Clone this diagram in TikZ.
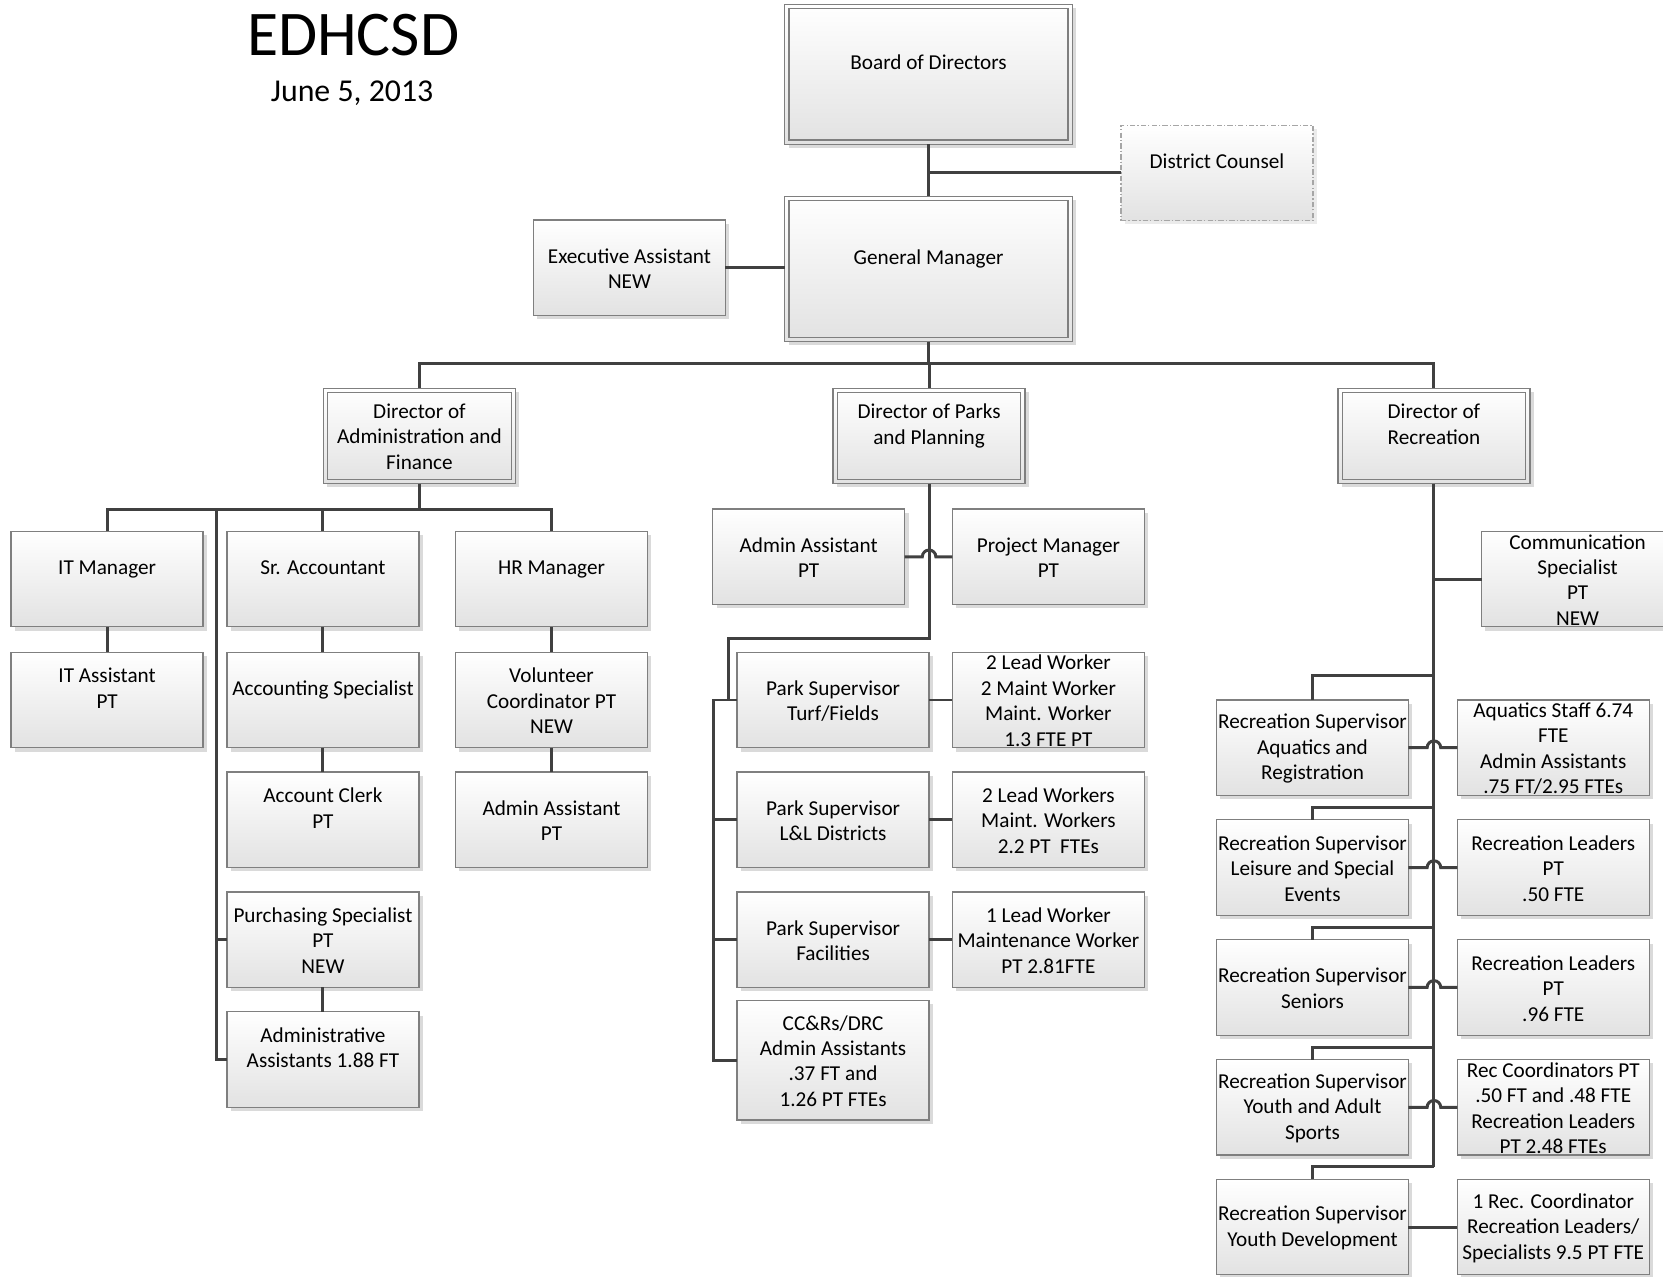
\documentclass[tikz,border=0pt]{standalone}
\usepackage{fontspec}
\setmainfont{Carlito}
\usetikzlibrary{shadows,calc}
\definecolor{boxline}{HTML}{7F7F7F}
\definecolor{wirecol}{HTML}{404040}
\definecolor{boxbot}{HTML}{E2E2E2}
\definecolor{shadowcol}{HTML}{DADADA}
\tikzset{
  x=0.5pt, y=-0.5pt,
  box/.style={rectangle, draw=boxline, line width=0.6pt,
    top color=white, bottom color=boxbot,
    minimum width=90.5pt, minimum height=45pt, inner sep=0pt, outer sep=0pt,
    drop shadow={shadow xshift=1.8pt, shadow yshift=-1.8pt, fill=shadowcol, opacity=1}},
  boxtext/.style={inner sep=0pt, align=center, font=\fontsize{10}{12}\selectfont},
  bigbox/.style={box, minimum width=135.5pt},
  dashbox/.style={box, draw=black!35, dash pattern=on 2.5pt off 1pt on 0.6pt off 1pt,
    drop shadow={shadow xshift=1.8pt, shadow yshift=-1.8pt, fill=black!8, opacity=1}},
  wire/.style={draw=wirecol, line width=1.4pt, line join=miter},
}
\newcommand{\hopradius}{3.2pt}
% \orgbox[style]{name}{(position)}{text}: a shaded box with its caption
\newcommand{\orgbox}[4][box]{%
  \node[#1] (#2) at #3 {};
  \node[boxtext] (#2-t) at ([yshift=-0.4pt]#2.center) {#4};}
\begin{document}
\begin{tikzpicture}
\useasboundingbox (0,0) rectangle (1568,1204);

% heading
\node (title) at (333,33) {\fontsize{30}{36}\selectfont EDHCSD};
\node (date) at (332,88) {\fontsize{15}{18}\selectfont June 5, 2013};

% top of the organisation
\orgbox[bigbox, minimum height=66pt]{board}{(875.5,70)}{Board of Directors\\}
\orgbox[bigbox, minimum height=68.5pt]{gm}{(875.5,253.5)}{General Manager\\}
\orgbox[dashbox]{counsel}{(1147.5,163)}{District Counsel\\}
\orgbox{exec}{(593.5,252.5)}{Executive Assistant\\NEW}

% directors
\orgbox{dadmin}{(395.5,411)}{Director of\\Administration and\\Finance}
\orgbox{dparks}{(876,411)}{Director of Parks\\and Planning\\}
\orgbox{drec}{(1352,411)}{Director of\\Recreation\\}

% inner frame of the double-bordered shapes
\foreach \n in {board,gm,dadmin,dparks,drec}
  \draw[boxline, line width=0.6pt] ([shift={(2pt,-2pt)}]\n.north west) rectangle ([shift={(-2pt,2pt)}]\n.south east);

% administration and finance
\orgbox{itm}{(101,546)}{IT Manager\\}
\orgbox{sracc}{(304.5,546)}{Sr. Accountant\\}
\orgbox{hrm}{(520,546)}{HR Manager\\}
\orgbox{itasst}{(101,660)}{IT Assistant\\PT\\}
\orgbox{accspec}{(304.5,660)}{Accounting Specialist\\}
\orgbox{volco}{(520,660)}{Volunteer\\Coordinator PT\\NEW}
\orgbox{clerk}{(304.5,773)}{Account Clerk\\PT\\}
\orgbox{hrasst}{(520,773)}{Admin Assistant\\PT}
\orgbox{purch}{(304.5,886)}{Purchasing Specialist\\PT\\NEW}
\orgbox{admasst}{(304.5,999)}{Administrative\\Assistants 1.88 FT\\}

% parks and planning
\orgbox{paa}{(762.5,525)}{Admin Assistant\\PT}
\orgbox{ppm}{(988.5,525)}{Project Manager\\PT}
\orgbox{turf}{(785.5,660)}{Park Supervisor\\Turf/Fields}
\orgbox{lldist}{(785.5,773)}{Park Supervisor\\L\&L Districts}
\orgbox{facil}{(785.5,886)}{Park Supervisor\\Facilities}
\orgbox[box, minimum height=56.5pt]{ccrs}{(785.5,999.5)}{CC\&Rs/DRC\\Admin Assistants\\.37 FT and\\1.26 PT FTEs}
\orgbox{turfw}{(988.5,660)}{2 Lead Worker\\2 Maint Worker\\Maint. Worker\\1.3 FTE PT}
\orgbox{lldw}{(988.5,773)}{2 Lead Workers\\Maint. Workers\\2.2 PT\ \ FTEs}
\orgbox{facw}{(988.5,886)}{1 Lead Worker\\Maintenance Worker\\PT 2.81FTE}

% recreation
\orgbox{comm}{(1487.5,546)}{Communication\\Specialist\\PT\\NEW}
\orgbox{sup1}{(1237.5,705)}{Recreation Supervisor\\Aquatics and\\Registration}
\orgbox{sup2}{(1237.5,818)}{Recreation Supervisor\\Leisure and Special\\Events}
\orgbox{sup3}{(1237.5,931)}{Recreation Supervisor\\Seniors}
\orgbox{sup4}{(1237.5,1044)}{Recreation Supervisor\\Youth and Adult\\Sports}
\orgbox{sup5}{(1237.5,1157)}{Recreation Supervisor\\Youth Development}
\orgbox{staff1}{(1464.5,705)}{Aquatics Staff 6.74\\FTE\\Admin Assistants\\.75 FT/2.95 FTEs}
\orgbox{staff2}{(1464.5,818)}{Recreation Leaders\\PT\\.50 FTE}
\orgbox{staff3}{(1464.5,931)}{Recreation Leaders\\PT\\.96 FTE}
\orgbox{staff4}{(1464.5,1044)}{Rec Coordinators PT\\.50 FT and .48 FTE\\Recreation Leaders\\PT 2.48 FTEs}
\orgbox{staff5}{(1464.5,1157)}{1 Rec. Coordinator\\Recreation Leaders/\\Specialists 9.5 PT FTE}

% ---- connectors ----
\coordinate (topbus) at (875.5,343);
\draw[wire] (board.south) -- (gm.north);
\draw[wire] (counsel.west) -- (counsel.west -| board.south);
\draw[wire] (exec.east) -- (exec.east -| gm.west);
\draw[wire] (gm.south) -- (topbus);
\draw[wire] (dadmin.north) |- (topbus) -| (drec.north);
\draw[wire] (dparks.north) -- (dparks.north |- topbus);

% administration branch
\coordinate (abus) at (395.5,480);
\coordinate (arail) at (204.5,480);
\draw[wire] (dadmin.south) -- (abus);
\draw[wire] (itm.north) |- (abus) -| (hrm.north);
\draw[wire] (sracc.north) -- (sracc.north |- abus);
\draw[wire] (arail) |- (admasst.west);
\draw[wire] (purch.west) -- (purch.west -| arail);
\draw[wire] (itm.south) -- (itasst.north);
\draw[wire] (sracc.south) -- (accspec.north);
\draw[wire] (accspec.south) -- (clerk.north);
\draw[wire] (purch.south) -- (admasst.north);
\draw[wire] (hrm.south) -- (volco.north);
\draw[wire] (volco.south) -- (hrasst.north);

% parks branch
\coordinate (pbend) at (687,602);
\coordinate (prail) at (672.5,660);
\draw[wire] (dparks.south) |- (pbend) |- (turf.west);
\draw[wire] (turf.west) -- (prail) |- (ccrs.west);
\draw[wire] (lldist.west) -- (lldist.west -| prail);
\draw[wire] (facil.west) -- (facil.west -| prail);
\coordinate (phop) at (paa.east -| dparks.south);
\draw[wire] (paa.east) -- ($(phop)+(-\hopradius,0)$)
  arc[start angle=180, end angle=0, radius=\hopradius] -- (ppm.west);
\draw[wire] (turf.east) -- (turfw.west);
\draw[wire] (lldist.east) -- (lldw.west);
\draw[wire] (facil.east) -- (facw.west);

% recreation branch
\coordinate (k1) at (1237.5,637);
\coordinate (k2) at (1237.5,761.5);
\coordinate (k3) at (1237.5,874.5);
\coordinate (k4) at (1237.5,987.5);
\coordinate (k5) at (1237.5,1100);
\draw[wire] (drec.south) -- (k5 -| drec.south);
\draw[wire] (comm.west) -- (comm.west -| drec.south);
\foreach \i in {1,...,5}
  \draw[wire] (sup\i.north) -- (k\i) -- (k\i -| drec.south);
\foreach \i in {1,...,4}{
  \coordinate (rhop\i) at (sup\i.east -| drec.south);
  \draw[wire] (sup\i.east) -- ($(rhop\i)+(-\hopradius,0)$)
    arc[start angle=180, end angle=0, radius=\hopradius] -- (staff\i.west);
}
\draw[wire] (sup5.east) -- (staff5.west);
\end{tikzpicture}
\end{document}
